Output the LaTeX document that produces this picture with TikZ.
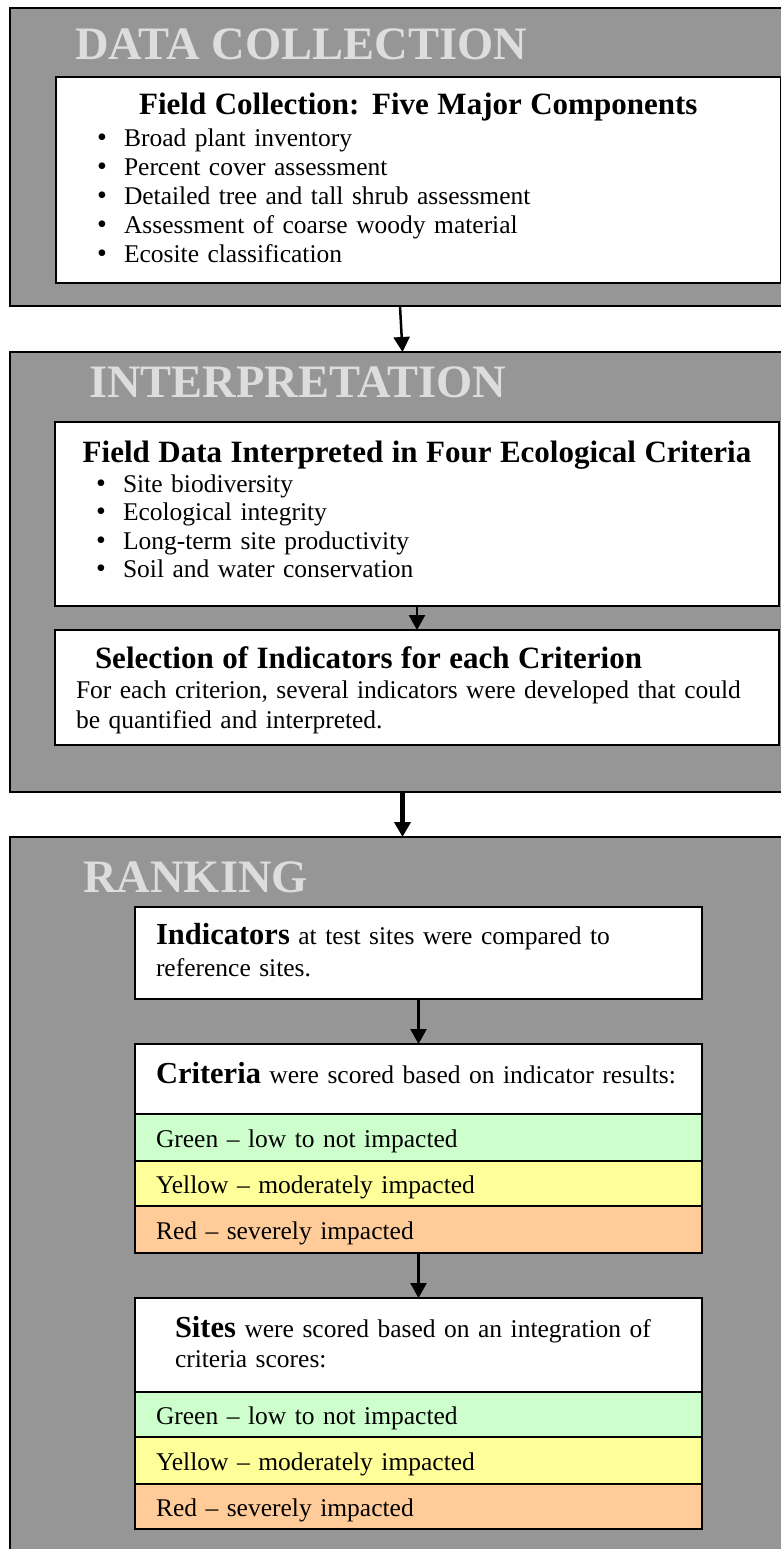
\documentclass[tikz,border=0pt]{standalone}
\usepackage{fontspec}
\setmainfont{Liberation Serif}
\usetikzlibrary{positioning,arrows.meta}
\definecolor{PanelGray}{HTML}{969696}
\definecolor{TitleGray}{HTML}{DDDDDD}
\definecolor{LowGreen}{HTML}{CCFFCC}
\definecolor{ModYellow}{HTML}{FFFF99}
\definecolor{HighOrange}{HTML}{FFCC99}
% bullet line, and invisible struts to set the first-line height / last-line depth
\newcommand{\bitem}[1]{\hspace*{41pt}\makebox[27pt][l]{\fontsize{28}{29}\selectfont\textbullet}#1}
\newcommand{\toppad}[1]{\rule{0pt}{#1}}
\newcommand{\botpad}[1]{\rule[-#1]{0pt}{#1}}

\begin{document}
\begin{tikzpicture}[
  x=1pt, y=-1pt,
  node distance=0pt,
  font=\fontsize{25.5}{29}\selectfont,
  >={Triangle[length=15pt,width=16pt]},
  % --- stage panels ---
  stage/.style={draw=black, line width=2pt, fill=PanelGray, anchor=north west,
    inner sep=0pt, outer sep=0pt, minimum width=785pt},
  stagetitle/.style={anchor=base west, inner sep=0pt, text=TitleGray,
    font=\fontsize{46.5}{46.5}\selectfont\bfseries},
  % --- white boxes ---
  wbox/.style={draw=black, line width=1.5pt, fill=white, anchor=north west,
    inner ysep=0pt, outer sep=0pt, align=left},
  rkbox/.style={wbox, text width=525pt, inner xsep=21pt},
  band/.style={rkbox, text height=25pt, text depth=6pt},
  % --- connectors ---
  flow/.style={->, line width=2.5pt},
  bigflow/.style={->, line width=4.5pt},
]
\useasboundingbox (0,0) rectangle (781,1549);
\fill[white] (0,0) rectangle (781,1549);
\clip (0,0) rectangle (781,1549);

% =================== STAGE PANELS ===================
\node[stage, minimum height=298pt] (dcPanel) at (10,8) {};
\node[stage, minimum height=440pt, below=46pt of dcPanel] (inPanel) {};
\node[stage, minimum height=730pt, below=45pt of inPanel] (rkPanel) {};

\node[stagetitle] (dcTitle) at (75,60) {DATA COLLECTION};
\node[stagetitle] (inTitle) at (89,397) {INTERPRETATION};
\node[stagetitle] (rkTitle) at (83,892) {RANKING};

% =================== DATA COLLECTION ===================
\node[wbox, text width=724.5pt, inner xsep=0pt, minimum height=206pt] (fcBox) at (56,77)
  {\makebox[\linewidth]{\fontsize{31}{32}\selectfont\bfseries\toppad{27pt}Field Collection: Five Major Components}\\[3pt]
   \bitem{Broad plant inventory}\\
   \bitem{Percent cover assessment}\\
   \bitem{Detailed tree and tall shrub assessment}\\
   \bitem{Assessment of coarse woody material}\\
   \bitem{Ecosite classification}\botpad{9pt}};

% =================== INTERPRETATION ===================
\node[wbox, text width=724pt, inner xsep=0pt, minimum height=184pt,
      font=\fontsize{25.5}{28.5}\selectfont] (fdBox) at (55,422)
  {\makebox[\linewidth]{\fontsize{31}{32}\selectfont\bfseries\toppad{22pt}Field Data Interpreted in Four Ecological Criteria}\\[1.5pt]
   \bitem{Site biodiversity}\\
   \bitem{Ecological integrity}\\
   \bitem{Long-term site productivity}\\
   \bitem{Soil and water conservation}\botpad{10.5pt}};

\node[wbox, text width=682pt, inner xsep=21pt, minimum height=115pt,
      font=\fontsize{25.5}{30}\selectfont, below=24pt of fdBox] (selBox)
  {\hspace*{19pt}{\fontsize{31}{32}\selectfont\bfseries\toppad{30pt}Selection of Indicators for each Criterion}\\
   For each criterion, several indicators were developed that could\\
   be quantified and interpreted.\botpad{9pt}};

% =================== RANKING ===================
\node[rkbox, minimum height=92pt, font=\fontsize{25.5}{32}\selectfont] (indHead) at (135,907)
  {\toppad{24pt}{\fontsize{30.5}{32}\selectfont\bfseries Indicators} at test sites were compared to\\
   reference sites.\botpad{10pt}};

\node[rkbox, minimum height=70pt, text height=22pt, text depth=14pt, below=45pt of indHead] (critHead)
  {{\fontsize{30.5}{32}\selectfont\bfseries Criteria} were scored based on indicator results:};
\node[band, fill=LowGreen, minimum height=47pt, below=of critHead] (critLow) {Green -- low to not impacted};
\node[band, fill=ModYellow, minimum height=45pt, below=of critLow] (critMod) {Yellow -- moderately impacted};
\node[band, fill=HighOrange, minimum height=47pt, below=of critMod] (critHigh) {Red -- severely impacted};

\node[rkbox, text width=487pt, inner xsep=40pt, minimum height=94pt,
      font=\fontsize{25.5}{30}\selectfont, below=45pt of critHigh] (siteHead)
  {\toppad{24pt}{\fontsize{30.5}{32}\selectfont\bfseries Sites} were scored based on an integration of\\
   criteria scores:\botpad{10pt}};
\node[band, fill=LowGreen, minimum height=45pt, below=of siteHead] (siteLow) {Green -- low to not impacted};
\node[band, fill=ModYellow, minimum height=47pt, below=of siteLow] (siteMod) {Yellow -- moderately impacted};
\node[band, fill=HighOrange, minimum height=45pt, below=of siteMod] (siteHigh) {Red -- severely impacted};

% =================== FLOW ===================
\draw[flow] ([xshift=-2.5pt]dcPanel.south) -- (inPanel.north);
\draw[flow] (fdBox.south) -- (selBox.north);
\draw[bigflow] (inPanel.south) -- (rkPanel.north);
\draw[flow] (indHead.south) -- (critHead.north);
\draw[flow] (critHigh.south) -- (siteHead.north);

\end{tikzpicture}
\end{document}
